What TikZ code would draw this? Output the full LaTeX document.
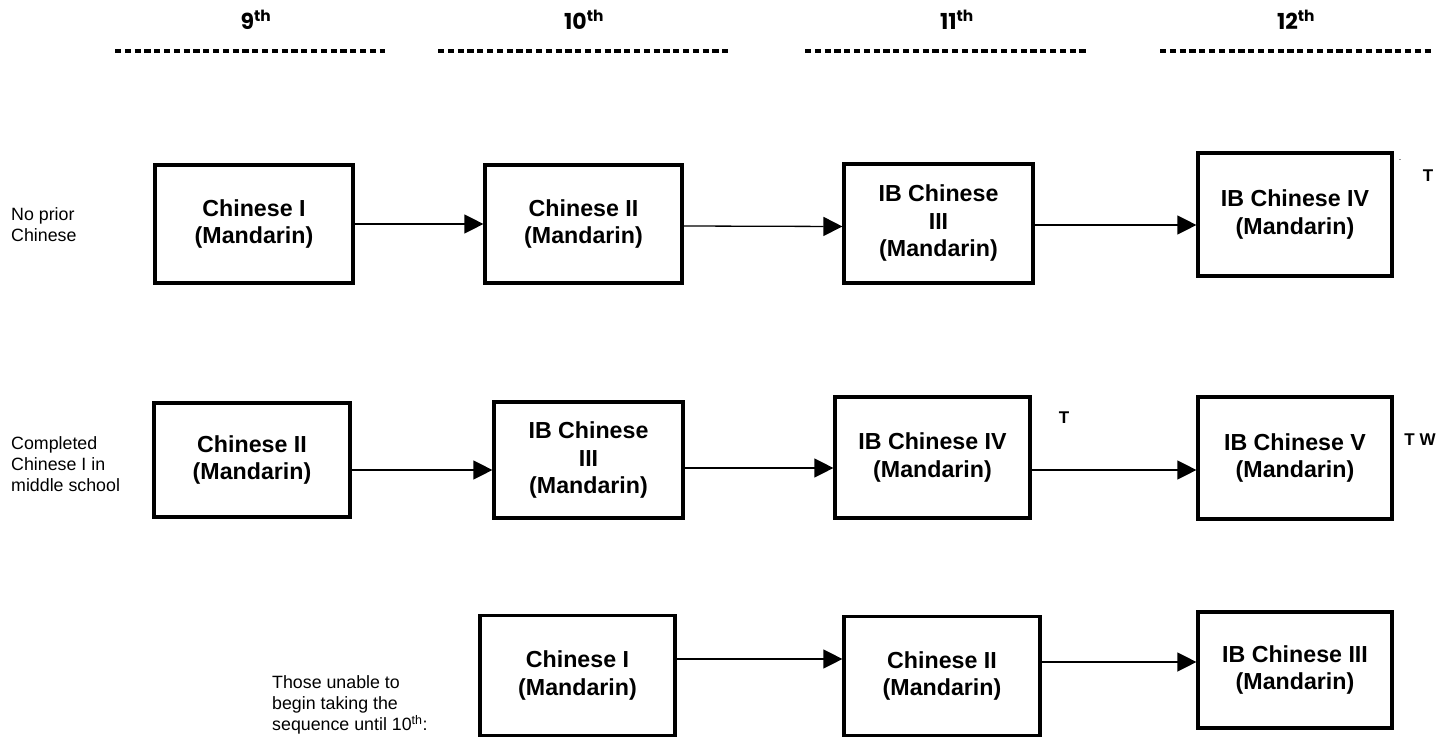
\documentclass[tikz,border=0pt]{standalone}
\usepackage{fontspec}
\setmainfont{Liberation Sans}
\newfontfamily\headfont{Poppins}
\usetikzlibrary{arrows.meta}

\begin{document}
\begin{tikzpicture}[
    x=1pt, y=-1pt,
    course/.style={draw, line width=3.2pt, inner sep=0pt, align=center,
        font=\fontsize{23.2}{27.5}\selectfont\bfseries},
    grade/.style={font=\headfont\fontsize{22}{26}\selectfont\bfseries},
    intro/.style={align=left, anchor=west, inner sep=0pt,
        font=\fontsize{17.8}{21}\selectfont},
    tag/.style={font=\fontsize{17}{20}\selectfont\bfseries, inner sep=0pt},
    rule/.style={line width=3.8pt, dash pattern=on 6.2pt off 3.6pt},
    flow/.style={-{Triangle[length=19pt, width=19pt]}, line width=1.3pt}
]
    \useasboundingbox (0,0) rectangle (1453,738);

    % Grade headings
    \node[grade] (g9)  at (256,20)  {9\textsuperscript{th}};
    \node[grade] (g10) at (584,20)  {10\textsuperscript{th}};
    \node[grade] (g11) at (957,20)  {11\textsuperscript{th}};
    \node[grade] (g12) at (1296,20) {12\textsuperscript{th}};
    \coordinate (u9a)  at (115,51);  \coordinate (u9b)  at (385,51);
    \coordinate (u10a) at (438,51);  \coordinate (u10b) at (730,51);
    \coordinate (u11a) at (805,51);  \coordinate (u11b) at (1087,51);
    \coordinate (u12a) at (1160,51); \coordinate (u12b) at (1432,51);
    \draw[rule] (u9a) -- (u9b);
    \draw[rule] (u10a) -- (u10b);
    \draw[rule] (u11a) -- (u11b);
    \draw[rule] (u12a) -- (u12b);

    % Row labels
    \node[intro] (start1) at (11,225) {No prior\\Chinese};
    \node[intro] (start2) at (11,464) {Completed\\Chinese I in\\middle school};
    \node[intro] (start3) at (272,705) {Those unable to\\begin taking the\\sequence until 10\textsuperscript{th}:};

    % Courses (manual grid layout)
    \node[course, minimum width=198pt, minimum height=118pt] (A1) at (254,224)    {Chinese I\\(Mandarin)};
    \node[course, minimum width=197pt, minimum height=118pt] (A2) at (583.5,224)  {Chinese II\\(Mandarin)};
    \node[course, minimum width=189pt, minimum height=119pt] (A3) at (938.5,223.5) {IB Chinese\\III\\(Mandarin)};
    \node[course, minimum width=194pt, minimum height=123pt] (A4) at (1295,214.5) {IB Chinese IV\\(Mandarin)};

    \node[course, minimum width=196pt, minimum height=114pt] (B1) at (252,460)    {Chinese II\\(Mandarin)};
    \node[course, minimum width=189pt, minimum height=116pt] (B2) at (588.5,460)  {IB Chinese\\III\\(Mandarin)};
    \node[course, minimum width=195pt, minimum height=121pt] (B3) at (932.5,457.5) {IB Chinese IV\\(Mandarin)};
    \node[course, minimum width=194pt, minimum height=122pt] (B4) at (1295,458)   {IB Chinese V\\(Mandarin)};

    \node[course, minimum width=195pt, minimum height=120pt] (C1) at (577.5,675.5) {Chinese I\\(Mandarin)};
    \node[course, minimum width=196pt, minimum height=119pt] (C2) at (942,676)    {Chinese II\\(Mandarin)};
    \node[course, minimum width=194pt, minimum height=116pt] (C3) at (1295,670)   {IB Chinese III\\(Mandarin)};

    % Side marks
    \node[tag] (t1) at (1428,176) {T};
    \node[inner sep=0pt, font=\small] (dot) at (1400,160) {.};
    \node[tag] (t2) at (1064,418) {T};
    \node[tag] (t3) at (1420,440) {T W};

    % Progressions
    \draw[flow] (A1.east) -- (A2.west);
    \draw[flow] ([yshift=-2pt]A2.east) -- ([yshift=-3pt]A3.west);
    \draw[flow] ([yshift=-1.5pt]A3.east) -- ([yshift=-1.5pt]A3.east -| A4.west);

    \draw[flow] ([yshift=-10pt]B1.east) -- ([yshift=-10pt]B1.east -| B2.west);
    \draw[flow] ([yshift=-8pt]B2.east) -- ([yshift=-8pt]B2.east -| B3.west);
    \draw[flow] ([yshift=-12.5pt]B3.east) -- ([yshift=-12pt]B4.west);

    \draw[flow] ([yshift=16.5pt]C1.east) -- ([yshift=16.5pt]C1.east -| C2.west);
    \draw[flow] ([yshift=14pt]C2.east) -- ([yshift=8pt]C3.west);
\end{tikzpicture}
\end{document}
